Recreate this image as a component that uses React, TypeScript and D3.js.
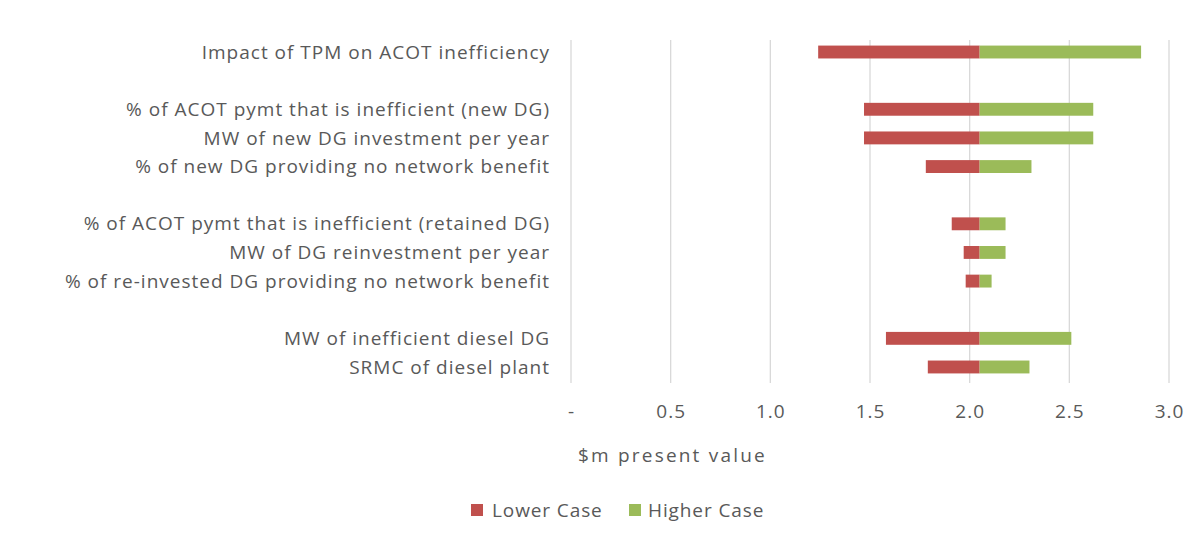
import React, { useEffect, useRef } from 'react';
import * as d3 from 'd3';

const categories = [
  'Impact of TPM on ACOT inefficiency',
  '',
  '% of ACOT pymt that is inefficient (new DG)',
  'MW of new DG investment per year',
  '% of new DG providing no network benefit',
  '',
  '% of ACOT pymt that is inefficient (retained DG)',
  'MW of DG reinvestment per year',
  '% of re-invested DG providing no network benefit',
  '',
  'MW of inefficient diesel DG',
  'SRMC of diesel plant',
];
const baseValue = 2.05;
const lowerCase = [1.24, null, 1.47, 1.47, 1.78, null, 1.91, 1.97, 1.98, null, 1.58, 1.79];
const higherCase = [2.86, null, 2.62, 2.62, 2.31, null, 2.18, 2.18, 2.11, null, 2.51, 2.30];
const xTicks = [0, 0.5, 1, 1.5, 2, 2.5, 3];
const seriesNames = ['Lower Case', 'Higher Case'];
const seriesColors = ['#C0504D', '#9BBB59'];

const FONT = '"Open Sans", "Noto Sans", sans-serif';
const TEXT = '#595959';

const App = () => {
  const svgRef = useRef<SVGSVGElement>(null);

  useEffect(() => {
    const width = 1202;
    const height = 541;
    const svg = d3.select(svgRef.current)
      .attr('width', width)
      .attr('height', height)
      .style('font-family', FONT);
    svg.selectAll('*').remove();

    const x = d3.scaleLinear().domain([0, 3]).range([571, 1169]);
    const y = d3.scaleBand<number>()
      .domain(d3.range(categories.length))
      .range([37.7, 381.3])
      .paddingInner(0.55)
      .paddingOuter(0.275);

    // gridlines
    svg.append('g')
      .selectAll('line')
      .data(xTicks)
      .join('line')
      .attr('x1', d => x(d))
      .attr('x2', d => x(d))
      .attr('y1', 40)
      .attr('y2', 383)
      .attr('stroke', '#D9D9D9')
      .attr('stroke-width', 1.3);

    // tick labels (letter-spacing adds trailing space, so nudge by half of it)
    svg.append('g')
      .selectAll('text')
      .data(xTicks)
      .join('text')
      .attr('x', d => x(d) + 0.5)
      .attr('y', 411)
      .attr('dy', '0.35em')
      .attr('text-anchor', 'middle')
      .attr('fill', TEXT)
      .style('font-size', '19px')
      .style('letter-spacing', '1px')
      .text(d => (d === 0 ? '-' : d3.format('.1f')(d)));

    // category labels
    svg.append('g')
      .selectAll('text')
      .data(categories)
      .join('text')
      .attr('x', 550)
      .attr('y', (d, i) => (y(i) as number) + y.bandwidth() / 2)
      .attr('dy', '0.35em')
      .attr('text-anchor', 'end')
      .attr('fill', TEXT)
      .style('font-size', '19px')
      .style('letter-spacing', '1px')
      .text(d => d);

    const rows = categories.map((c, i) => ({ i, lo: lowerCase[i], hi: higherCase[i] }))
      .filter(r => r.lo !== null);

    // lower case bars
    svg.append('g')
      .selectAll('rect')
      .data(rows)
      .join('rect')
      .attr('x', d => x(d.lo as number))
      .attr('width', d => x(baseValue) - x(d.lo as number))
      .attr('y', d => y(d.i) as number)
      .attr('height', y.bandwidth())
      .attr('fill', seriesColors[0]);

    // higher case bars
    svg.append('g')
      .selectAll('rect')
      .data(rows)
      .join('rect')
      .attr('x', x(baseValue))
      .attr('width', d => x(d.hi as number) - x(baseValue))
      .attr('y', d => y(d.i) as number)
      .attr('height', y.bandwidth())
      .attr('fill', seriesColors[1]);

    // axis title
    svg.append('text')
      .attr('x', 578)
      .attr('y', 455)
      .attr('dy', '0.35em')
      .attr('fill', TEXT)
      .style('font-size', '19px')
      .style('letter-spacing', '2.2px')
      .text('$m present value');

    // legend
    const swatchX = [471, 629];
    const labelX = [492, 648];
    const legend = svg.append('g')
      .selectAll('g')
      .data(seriesNames)
      .join('g');
    legend.append('rect')
      .attr('x', (d, i) => swatchX[i])
      .attr('y', 504)
      .attr('width', 12)
      .attr('height', 12)
      .attr('fill', (d, i) => seriesColors[i]);
    legend.append('text')
      .attr('x', (d, i) => labelX[i])
      .attr('y', 510)
      .attr('dy', '0.35em')
      .attr('fill', TEXT)
      .style('font-size', '19px')
      .style('letter-spacing', '0.9px')
      .text(d => d);
  }, []);

  return <svg ref={svgRef} style={{ position: 'absolute', left: 0, top: 0 }} />;
};

export default App;
